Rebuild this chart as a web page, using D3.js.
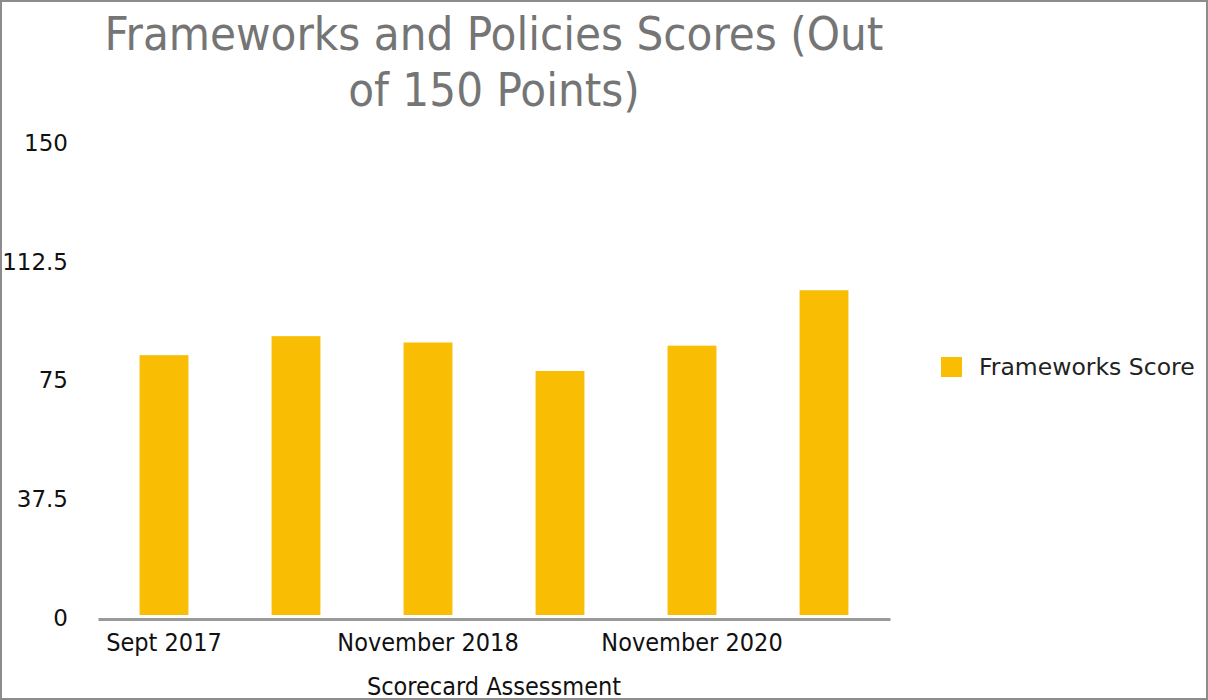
<!DOCTYPE html>
<html>
<head>
<meta charset="utf-8">
<script src="https://cdn.jsdelivr.net/npm/d3@7"></script>
<style>
  body { margin: 0; background: #fff; }
</style>
</head>
<body>
<div id="chart"></div>
<script>
var width = 1208;
var height = 700;

// data
var categories = ["Sept 2017", "April 2018", "November 2018", "November 2019", "November 2020", "November 2021"];
var shownLabels = ["Sept 2017", "November 2018", "November 2020"];
var frameworksScore = [83, 89, 87, 78, 86, 103.5];
var yTicks = [0, 37.5, 75, 112.5, 150];
var titleLines = ["Frameworks and Policies Scores (Out", "of 150 Points)"];

var data = categories.map(function(c, i) { return { label: c, value: frameworksScore[i] }; });

var margin = { left: 98, right: 318, top: 143, bottom: 82 };

var svg = d3.select("#chart").append("svg")
  .attr("width", width)
  .attr("height", height);

// outer frame
svg.append("rect")
  .attr("x", 1).attr("y", 1)
  .attr("width", width - 2).attr("height", height - 2)
  .attr("fill", "none")
  .attr("stroke", "#8c8c8c")
  .attr("stroke-width", 2);

var x = d3.scaleBand()
  .domain(categories)
  .range([margin.left, width - margin.right])
  .paddingInner(0.63)
  .paddingOuter(0.315);

var y = d3.scaleLinear()
  .domain([0, 150])
  .range([height - margin.bottom, margin.top]);

// bars
svg.append("g")
  .selectAll("rect")
  .data(data)
  .enter()
  .append("rect")
    .attr("x", function(d) { return x(d.label); })
    .attr("y", function(d) { return y(d.value); })
    .attr("width", x.bandwidth())
    .attr("height", function(d) { return y(0) - y(d.value) - 3; })
    .attr("fill", "#f9bd03");

// x axis
var xAxis = svg.append("g")
  .attr("transform", "translate(0," + (y(0) + 1) + ")")
  .call(d3.axisBottom(x)
    .tickSize(0)
    .tickPadding(14)
    .tickFormat(function(d) { return shownLabels.indexOf(d) >= 0 ? d : ""; }));
xAxis.select(".domain").attr("stroke", "#9a9a9a").attr("stroke-width", 3);
xAxis.selectAll("text")
  .style("font-family", "'DejaVu Sans Condensed', 'DejaVu Sans'")
  .style("font-size", "25px")
  .attr("fill", "#111");

// y axis, labels only
var yAxis = svg.append("g")
  .attr("transform", "translate(68,0)")
  .call(d3.axisLeft(y).tickValues(yTicks).tickSize(0).tickPadding(0)
    .tickFormat(function(d) { return String(d); }));
yAxis.select(".domain").remove();
yAxis.selectAll("text")
  .style("font-family", "'DejaVu Sans'")
  .style("font-size", "23px")
  .attr("fill", "#111");

// title
svg.append("g")
  .selectAll("text")
  .data(titleLines)
  .enter()
  .append("text")
    .attr("x", (margin.left + width - margin.right) / 2)
    .attr("y", function(d, i) { return 50 + i * 56; })
    .attr("text-anchor", "middle")
    .style("font-family", "'DejaVu Sans Condensed', 'DejaVu Sans'")
    .style("font-size", "47px")
    .attr("fill", "#757575")
    .text(function(d) { return d; });

// axis title
svg.append("text")
  .attr("x", (margin.left + width - margin.right) / 2)
  .attr("y", 695)
  .attr("text-anchor", "middle")
  .style("font-family", "'DejaVu Sans Condensed', 'DejaVu Sans'")
  .style("font-size", "25px")
  .attr("fill", "#111")
  .text("Scorecard Assessment");

// legend
var legend = svg.append("g").attr("transform", "translate(941,357)");
legend.append("rect")
  .attr("width", 21).attr("height", 20)
  .attr("fill", "#f9bd03");
legend.append("text")
  .attr("x", 38)
  .attr("y", 18)
  .style("font-family", "'DejaVu Sans'")
  .style("font-size", "23.5px")
  .attr("fill", "#222")
  .text("Frameworks Score");
</script>
</body>
</html>
